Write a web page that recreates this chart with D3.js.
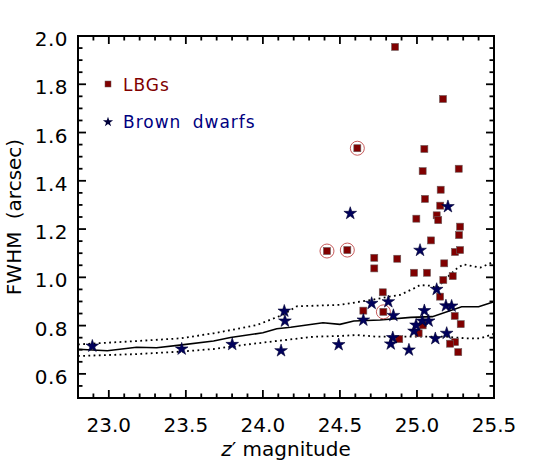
<!DOCTYPE html>
<html>
<head>
<meta charset="utf-8">
<script src="https://cdn.jsdelivr.net/npm/d3@7"></script>
<style>
  body { margin: 0; background: #fff; }
  text { font-family: "DejaVu Sans", sans-serif; }
</style>
</head>
<body>
<div id="chart"></div>
<script>
var w = 550,
    h = 472;

var margin = { top: 36, right: 56, bottom: 74, left: 78 };

// LBG candidates (squares)
var lbgMag = [24.858, 25.169, 25.048, 25.037, 25.271, 25.154, 25.052, 25.151, 25.128, 25.138,
              24.996, 25.280, 25.273, 25.091, 25.247, 25.280, 24.872, 25.177, 24.981, 25.065,
              25.232, 25.171, 25.150, 24.778, 24.782, 25.245, 25.037, 25.284, 25.011, 24.885,
              25.247, 25.215, 25.268, 24.613, 24.416, 24.548, 24.723, 24.723, 24.652];
var lbgFwhm = [1.955, 1.739, 1.532, 1.440, 1.450, 1.363, 1.325, 1.297, 1.257, 1.237,
               1.243, 1.210, 1.175, 1.153, 1.105, 1.113, 1.077, 1.058, 1.019, 1.019,
               1.005, 0.989, 0.920, 0.938, 0.857, 0.840, 0.801, 0.806, 0.768, 0.744,
               0.732, 0.725, 0.690, 1.535, 1.109, 1.113, 1.081, 1.037, 0.862];
// indexes into the LBG arrays that are ringed
var ringed = [24, 33, 34, 35];

// brown dwarfs (stars)
var dwarfMag = [22.893, 23.473, 23.801, 24.118, 24.139, 24.143, 24.492, 24.567, 24.706, 24.652,
                24.814, 24.847, 24.843, 24.830, 24.948, 24.981, 24.994, 25.035, 25.076, 25.048,
                25.020, 25.128, 25.188, 25.225, 25.193, 25.119, 25.201];
var dwarfFwhm = [0.715, 0.703, 0.722, 0.696, 0.860, 0.819, 0.721, 1.265, 0.892, 0.823,
                 0.899, 0.842, 0.750, 0.724, 0.699, 0.777, 0.802, 0.819, 0.819, 0.862,
                 1.112, 0.950, 0.882, 0.881, 0.768, 0.746, 1.293];

// median stellar FWHM and the two dotted envelopes
var medMag  = [22.8, 22.99, 23.18, 23.31, 23.46, 23.68, 23.79, 24.0, 24.09, 24.18, 24.39, 24.5, 24.59, 24.76, 24.96, 25.1, 25.29, 25.4, 25.5];
var medFwhm = [0.702, 0.696, 0.710, 0.708, 0.719, 0.736, 0.751, 0.770, 0.787, 0.793, 0.812, 0.805, 0.819, 0.823, 0.834, 0.837, 0.878, 0.878, 0.899];
var hiMag  = [22.8, 23.18, 23.46, 23.68, 23.96, 24.13, 24.22, 24.5, 24.7, 24.82, 24.89, 24.98, 25.02, 25.09, 25.13, 25.19, 25.26, 25.3, 25.41, 25.5];
var hiFwhm = [0.722, 0.736, 0.747, 0.768, 0.802, 0.845, 0.880, 0.886, 0.906, 0.920, 0.927, 0.954, 0.968, 0.965, 0.954, 0.996, 1.037, 1.054, 1.040, 1.065];
var loMag  = [22.8, 23.18, 23.46, 23.68, 23.9, 24.18, 24.33, 24.5, 24.61, 24.74, 24.98, 25.19, 25.32, 25.41, 25.5];
var loFwhm = [0.674, 0.682, 0.692, 0.703, 0.722, 0.743, 0.754, 0.757, 0.761, 0.754, 0.754, 0.754, 0.747, 0.747, 0.766];

var xMajor = [23.0, 23.5, 24.0, 24.5, 25.0, 25.5];
var yMajor = [0.6, 0.8, 1.0, 1.2, 1.4, 1.6, 1.8, 2.0];

var red = '#800000',
    navy = '#000080';

var x = d3.scaleLinear().domain([22.8, 25.5]).range([margin.left, w - margin.right]);
var y = d3.scaleLinear().domain([0.5, 2.0]).range([h - margin.bottom, margin.top]);

var svg = d3.select('#chart').append('svg')
    .attr('width', w)
    .attr('height', h);

var pLeft = margin.left, pRight = w - margin.right,
    pTop = margin.top, pBottom = h - margin.bottom;

// frame first, ticks on top of it
svg.append('path')
    .attr('d', 'M' + pLeft + ',' + pTop + 'H' + pRight + 'V' + pBottom + 'H' + pLeft + 'Z')
    .style('fill', 'none')
    .style('stroke', '#000')
    .style('stroke-width', '2px');

var xMinor = d3.range(228, 256).map(function(d) { return d / 10; });
var yMinor = d3.range(10, 41).map(function(d) { return d / 20; });

function isMajor(v, list) {
    return list.some(function(m) { return Math.abs(m - v) < 1e-6; });
}

// inward ticks on all four sides
var tickSegs = [];
xMinor.forEach(function(v) {
    var len = isMajor(v, xMajor) ? 8 : 4.5;
    tickSegs.push([x(v), pBottom, x(v), pBottom - len]);
    tickSegs.push([x(v), pTop, x(v), pTop + len]);
});
yMinor.forEach(function(v) {
    var len = isMajor(v, yMajor) ? 8 : 4.5;
    tickSegs.push([pLeft, y(v), pLeft + len, y(v)]);
    tickSegs.push([pRight, y(v), pRight - len, y(v)]);
});

svg.append('g').selectAll('line')
    .data(tickSegs).enter().append('line')
    .attr('x1', function(d) { return d[0]; })
    .attr('y1', function(d) { return d[1]; })
    .attr('x2', function(d) { return d[2]; })
    .attr('y2', function(d) { return d[3]; })
    .style('stroke', '#000')
    .style('stroke-width', '1.8px');

svg.append('g').selectAll('text')
    .data(xMajor).enter().append('text')
    .attr('x', function(d) { return x(d); })
    .attr('y', pBottom + 34)
    .attr('text-anchor', 'middle')
    .attr('font-size', 20)
    .text(d3.format('.1f'));

svg.append('g').selectAll('text')
    .data(yMajor).enter().append('text')
    .attr('x', pLeft - 10)
    .attr('y', function(d) { return y(d); })
    .attr('dy', '0.5em')
    .attr('text-anchor', 'end')
    .attr('font-size', 20)
    .attr('letter-spacing', 0.5)
    .text(d3.format('.1f'));

// axis titles
var xt = svg.append('text')
    .attr('x', (pLeft + pRight) / 2)
    .attr('y', 456)
    .attr('text-anchor', 'middle')
    .attr('font-size', 20);
xt.append('tspan').attr('font-style', 'italic').text('z');
xt.append('tspan').text('\u2032 magnitude');

svg.append('text')
    .attr('transform', 'translate(21,' + ((pTop + pBottom) / 2) + ') rotate(-90)')
    .attr('text-anchor', 'middle')
    .attr('font-size', 20)
    .attr('word-spacing', 6)
    .text('FWHM (arcsec)');

// lines
var line = d3.line()
    .x(function(d) { return x(d[0]); })
    .y(function(d) { return y(d[1]); });

var plot = svg.append('g');

plot.append('path')
    .datum(d3.zip(medMag, medFwhm))
    .attr('d', line)
    .attr('fill', 'none').attr('stroke', '#000').attr('stroke-width', 1.6);

[[hiMag, hiFwhm], [loMag, loFwhm]].forEach(function(s) {
    plot.append('path')
        .datum(d3.zip(s[0], s[1]))
        .attr('d', line)
        .attr('fill', 'none').attr('stroke', '#000')
        .attr('stroke-width', 1.8)
        .attr('stroke-dasharray', '1.8,3.4');
});

// rings
plot.selectAll('circle.ring')
    .data(ringed).enter().append('circle')
    .attr('class', 'ring')
    .attr('cx', function(i) { return x(lbgMag[i]); })
    .attr('cy', function(i) { return y(lbgFwhm[i]); })
    .attr('r', 7)
    .attr('fill', 'none')
    .attr('stroke', '#c04848')
    .attr('stroke-width', 0.9);

// LBG squares
var sq = 7;
plot.selectAll('rect.lbg')
    .data(d3.zip(lbgMag, lbgFwhm)).enter().append('rect')
    .attr('class', 'lbg')
    .attr('x', function(d) { return x(d[0]) - sq / 2; })
    .attr('y', function(d) { return y(d[1]) - sq / 2; })
    .attr('width', sq).attr('height', sq)
    .attr('fill', red)
    .attr('stroke', '#6a5a5a').attr('stroke-width', 0.6);

// brown dwarf stars
var star = d3.symbol().type(d3.symbolStar).size(50);
plot.selectAll('path.bd')
    .data(d3.zip(dwarfMag, dwarfFwhm)).enter().append('path')
    .attr('class', 'bd')
    .attr('d', star)
    .attr('transform', function(d) { return 'translate(' + x(d[0]) + ',' + y(d[1]) + ')'; })
    .attr('fill', '#00005c')
    .attr('stroke', '#000030').attr('stroke-width', 0.6);

// legend
var leg = svg.append('g');
leg.append('rect')
    .attr('x', 105).attr('y', 81).attr('width', 6).attr('height', 6)
    .attr('fill', red).attr('stroke', '#6a5a5a').attr('stroke-width', 0.5);
leg.append('text')
    .attr('x', 123).attr('y', 91)
    .attr('font-size', 17).attr('letter-spacing', 1)
    .attr('fill', red)
    .text('LBGs');
leg.append('path')
    .attr('d', d3.symbol().type(d3.symbolStar).size(32))
    .attr('transform', 'translate(108,122)')
    .attr('fill', '#00003a');
leg.append('text')
    .attr('x', 123).attr('y', 128)
    .attr('font-size', 17).attr('letter-spacing', 1).attr('word-spacing', 5)
    .attr('fill', navy)
    .text('Brown dwarfs');
</script>
</body>
</html>
